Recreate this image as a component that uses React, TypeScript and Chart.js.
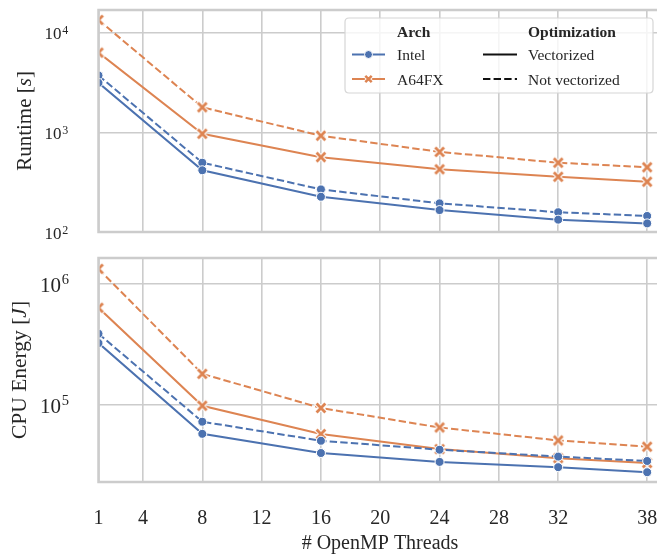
import React, { useEffect, useRef } from "react";
import { Chart, registerables } from "chart.js";
Chart.register(...registerables);

// ---------------- data ----------------
const threads = [1, 8, 16, 24, 32, 38];
const xTickValues = [1, 4, 8, 12, 16, 20, 24, 28, 32, 38];

const runtimeIntelVec = [3150, 417, 226, 166, 133, 122];
const runtimeIntelNoVec = [3740, 497, 268, 194, 158, 145];
const runtimeA64Vec = [6340, 970, 565, 427, 359, 320];
const runtimeA64NoVec = [13500, 1790, 927, 638, 497, 447];

const energyIntelVec = [323000, 57500, 39900, 33700, 30500, 27700];
const energyIntelNoVec = [386000, 72400, 50400, 42500, 37300, 34300];
const energyA64Vec = [632000, 98100, 57300, 43000, 36200, 33000];
const energyA64NoVec = [1325000, 180000, 94000, 64900, 50700, 45000];

const runtimeTicks = [100, 1000, 10000];
const energyTicks = [100000, 1000000];

const archLabels = ["Intel", "A64FX"];
const optLabels = ["Vectorized", "Not vectorized"];

// ---------------- style ----------------
const BLUE = "#4c72b0";
const ORANGE = "#dd8452";
const GRID = "#cccccc";
const TEXT = "#262626";
const FONT = '"Liberation Serif", "DejaVu Serif", serif';
const DASH = [7.4, 3.2];

function makeXMarker(): HTMLCanvasElement {
  const c = document.createElement("canvas");
  c.width = 18;
  c.height = 18;
  const g = c.getContext("2d")!;
  const draw = (color: string, w: number, h: number) => {
    g.strokeStyle = color;
    g.lineWidth = w;
    g.lineCap = "butt";
    g.beginPath();
    g.moveTo(9 - h, 9 - h);
    g.lineTo(9 + h, 9 + h);
    g.moveTo(9 + h, 9 - h);
    g.lineTo(9 - h, 9 + h);
    g.stroke();
  };
  draw("#ffffff", 4.8, 5.2);
  draw(ORANGE, 2.8, 4.4);
  return c;
}

function pts(vals: number[]) {
  return threads.map((t, i) => ({ x: t, y: vals[i] }));
}

function makeDatasets(iv: number[], inv: number[], av: number[], anv: number[], xm: HTMLCanvasElement) {
  const base = {
    borderWidth: 2,
    tension: 0,
    clip: 0,
    pointRadius: 4.5,
    pointHoverRadius: 4.5,
    pointBorderWidth: 1,
    pointBorderColor: "#ffffff",
    fill: false,
  };
  return [
    { ...base, label: "Intel Vectorized", data: pts(iv), borderColor: BLUE, backgroundColor: BLUE, pointBackgroundColor: BLUE, pointStyle: "circle" },
    { ...base, label: "Intel Not vectorized", data: pts(inv), borderColor: BLUE, backgroundColor: BLUE, pointBackgroundColor: BLUE, pointStyle: "circle", borderDash: DASH },
    { ...base, label: "A64FX Vectorized", data: pts(av), borderColor: ORANGE, backgroundColor: ORANGE, pointStyle: xm },
    { ...base, label: "A64FX Not vectorized", data: pts(anv), borderColor: ORANGE, backgroundColor: ORANGE, pointStyle: xm, borderDash: DASH },
  ];
}

const customPlugin = {
  id: "custom",
  afterDatasetsDraw(chart: any) {
    const { ctx, chartArea: a } = chart;
    ctx.save();
    ctx.strokeStyle = GRID;
    ctx.lineWidth = 2.5;
    ctx.strokeRect(a.left, a.top, a.right - a.left, a.bottom - a.top);
    ctx.restore();
  },
  afterDraw(chart: any, _args: any, o: any) {
    const { ctx, chartArea: a } = chart;
    const ys = chart.scales.y;
    const xs = chart.scales.x;
    ctx.save();
    ctx.fillStyle = TEXT;
    // y tick labels 10^n
    for (const v of o.yTicks as number[]) {
      const y = ys.getPixelForValue(v);
      const exp = Math.round(Math.log10(v));
      ctx.font = `${o.tickSize}px ${FONT}`;
      ctx.textAlign = "right";
      ctx.textBaseline = "alphabetic";
      ctx.fillText("10", o.tickRight, y + o.baseOff);
      ctx.font = `${o.supSize}px ${FONT}`;
      ctx.textAlign = "left";
      ctx.fillText(String(exp), o.tickRight + 0.8, y + o.supOff);
    }
    // y title (mixed italic)
    {
      const parts: [string, boolean][] = o.yTitle;
      const fs = o.titleSize;
      let total = 0;
      for (const [t, it] of parts) {
        ctx.font = `${it ? "italic " : ""}${fs}px ${FONT}`;
        total += ctx.measureText(t).width;
      }
      ctx.translate(o.titleX, (a.top + a.bottom) / 2);
      ctx.rotate(-Math.PI / 2);
      ctx.textAlign = "left";
      ctx.textBaseline = "alphabetic";
      let cx = -total / 2;
      for (const [t, it] of parts) {
        ctx.font = `${it ? "italic " : ""}${fs}px ${FONT}`;
        ctx.fillText(t, cx, 0);
        cx += ctx.measureText(t).width;
      }
      ctx.setTransform(1, 0, 0, 1, 0, 0);
    }
    // x tick labels + title
    if (o.xLabels) {
      ctx.font = `20px ${FONT}`;
      ctx.textAlign = "center";
      ctx.textBaseline = "alphabetic";
      for (const v of xTickValues) {
        ctx.fillText(String(v), xs.getPixelForValue(v), a.bottom + 41.5);
      }
      ctx.font = `20px ${FONT}`;
      ctx.fillText("# OpenMP Threads", 380, a.bottom + 67);
    }
    // legend
    if (o.legend) {
      const L = 345, T = 18, R = 653, B = 93, r = 4;
      ctx.beginPath();
      ctx.moveTo(L + r, T);
      ctx.lineTo(R - r, T);
      ctx.quadraticCurveTo(R, T, R, T + r);
      ctx.lineTo(R, B - r);
      ctx.quadraticCurveTo(R, B, R - r, B);
      ctx.lineTo(L + r, B);
      ctx.quadraticCurveTo(L, B, L, B - r);
      ctx.lineTo(L, T + r);
      ctx.quadraticCurveTo(L, T, L + r, T);
      ctx.closePath();
      ctx.fillStyle = "rgba(255,255,255,0.8)";
      ctx.fill();
      ctx.strokeStyle = "#d6d6d6";
      ctx.lineWidth = 1.2;
      ctx.stroke();

      ctx.fillStyle = TEXT;
      ctx.textAlign = "left";
      ctx.textBaseline = "alphabetic";
      ctx.font = `bold 15.5px ${FONT}`;
      ctx.fillText("Arch", 397, 37);
      ctx.fillText("Optimization", 528, 37);
      ctx.font = `15.5px ${FONT}`;
      ctx.fillText(archLabels[0], 397, 60);
      ctx.fillText(archLabels[1], 397, 84.5);
      ctx.fillText(optLabels[0], 528, 60);
      ctx.fillText(optLabels[1], 528, 84.5);

      const line = (x0: number, x1: number, y: number, color: string, dash: number[]) => {
        ctx.save();
        ctx.strokeStyle = color;
        ctx.lineWidth = 2;
        ctx.setLineDash(dash);
        ctx.beginPath();
        ctx.moveTo(x0, y);
        ctx.lineTo(x1, y);
        ctx.stroke();
        ctx.restore();
      };
      line(352, 385, 54.5, BLUE, []);
      ctx.beginPath();
      ctx.arc(368.5, 54.5, 4, 0, Math.PI * 2);
      ctx.fillStyle = BLUE;
      ctx.fill();
      ctx.strokeStyle = "#fff";
      ctx.lineWidth = 1;
      ctx.stroke();
      line(352, 385, 79, ORANGE, []);
      ctx.save();
      ctx.strokeStyle = "#fff";
      ctx.lineWidth = 4.4;
      ctx.beginPath();
      ctx.moveTo(364.5, 75); ctx.lineTo(372.5, 83);
      ctx.moveTo(372.5, 75); ctx.lineTo(364.5, 83);
      ctx.stroke();
      ctx.strokeStyle = ORANGE;
      ctx.lineWidth = 2.5;
      ctx.beginPath();
      ctx.moveTo(365.3, 75.8); ctx.lineTo(371.7, 82.2);
      ctx.moveTo(371.7, 75.8); ctx.lineTo(365.3, 82.2);
      ctx.stroke();
      ctx.restore();
      line(483, 517, 54.5, "#111", []);
      line(483, 517, 79, "#111", DASH);
    }
    ctx.restore();
  },
};

function makeConfig(opts: {
  datasets: any[];
  yMin: number;
  yMax: number;
  yTicks: number[];
  padTop: number;
  padBottom: number;
  xHeight: number;
  plugin: any;
}) {
  return {
    type: "line" as const,
    data: { datasets: opts.datasets },
    plugins: [customPlugin],
    options: {
      responsive: false,
      animation: false as const,
      devicePixelRatio: 1,
      events: [],
      layout: { padding: { top: opts.padTop, bottom: opts.padBottom, left: 0, right: 18 } },
      plugins: {
        legend: { display: false },
        tooltip: { enabled: false },
        custom: opts.plugin,
      },
      scales: {
        x: {
          type: "linear" as const,
          min: 1,
          max: 39,
          border: { display: false },
          grid: { color: GRID, lineWidth: 1.6, drawTicks: false },
          ticks: { display: false },
          afterBuildTicks: (s: any) => {
            s.ticks = xTickValues.map((v) => ({ value: v }));
          },
          afterFit: (s: any) => {
            s.height = opts.xHeight;
          },
        },
        y: {
          type: "logarithmic" as const,
          min: opts.yMin,
          max: opts.yMax,
          border: { display: false },
          grid: { color: GRID, lineWidth: 1.6, drawTicks: false },
          ticks: { display: false },
          afterBuildTicks: (s: any) => {
            s.ticks = opts.yTicks.map((v) => ({ value: v }));
          },
          afterFit: (s: any) => {
            s.width = 98.5;
          },
        },
      },
    },
  };
}

export default function App() {
  const topRef = useRef<HTMLCanvasElement>(null);
  const botRef = useRef<HTMLCanvasElement>(null);

  useEffect(() => {
    const xm = makeXMarker();
    const c1 = new Chart(
      topRef.current!,
      makeConfig({
        datasets: makeDatasets(runtimeIntelVec, runtimeIntelNoVec, runtimeA64Vec, runtimeA64NoVec, xm),
        yMin: 100,
        yMax: 17000,
        yTicks: runtimeTicks,
        padTop: 10,
        padBottom: 8,
        xHeight: 0,
        plugin: {
          yTicks: runtimeTicks,
          tickSize: 17,
          supSize: 12,
          tickRight: 61.5,
          baseOff: 6.5,
          supOff: 1.5,
          yTitle: [["Runtime [", false], ["s", true], ["]", false]],
          titleSize: 21,
          titleX: 30.5,
          xLabels: false,
          legend: true,
        },
      }) as any
    );
    const c2 = new Chart(
      botRef.current!,
      makeConfig({
        datasets: makeDatasets(energyIntelVec, energyIntelNoVec, energyA64Vec, energyA64NoVec, xm),
        yMin: 23000,
        yMax: 1630000,
        yTicks: energyTicks,
        padTop: 18,
        padBottom: 0,
        xHeight: 75,
        plugin: {
          yTicks: energyTicks,
          tickSize: 21,
          supSize: 14.5,
          tickRight: 61,
          baseOff: 8.5,
          supOff: 0,
          yTitle: [["CPU Energy [", false], ["J", true], ["]", false]],
          titleSize: 21.5,
          titleX: 26,
          xLabels: true,
          legend: false,
        },
      }) as any
    );
    return () => {
      c1.destroy();
      c2.destroy();
    };
  }, []);

  return (
    <div
      style={{
        position: "absolute",
        left: 0,
        top: 0,
        width: 657,
        height: 557,
        overflow: "hidden",
        background: "#ffffff",
      }}
    >
      <canvas ref={topRef} width={680} height={240} style={{ position: "absolute", left: 0, top: 0 }} />
      <canvas ref={botRef} width={680} height={317} style={{ position: "absolute", left: 0, top: 240 }} />
    </div>
  );
}
